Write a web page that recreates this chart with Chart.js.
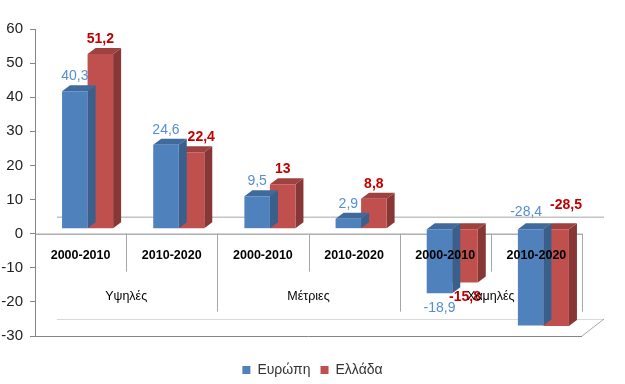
<!DOCTYPE html>
<html>
<head>
<meta charset="utf-8">
<script src="https://cdn.jsdelivr.net/npm/chart.js@4.4.1/dist/chart.umd.min.js"></script>
<style>
  html, body { margin: 0; padding: 0; background: #fff; }
  #wrap { width: 625px; height: 384px; }
</style>
</head>
<body>
<div id="wrap"><canvas id="chart" width="625" height="384"></canvas></div>
<script>
// Δεδομένα
const categories = ['2000-2010', '2010-2020', '2000-2010', '2010-2020', '2000-2010', '2010-2020'];
const groups = ['Υψηλές', 'Μέτριες', 'Χαμηλές'];
const seriesNames = ['Ευρώπη', 'Ελλάδα'];
const europe = [40.3, 24.6, 9.5, 2.9, -18.9, -28.4];
const greece = [51.2, 22.4, 13, 8.8, -15.8, -28.5];
const yMin = -30;
const yMax = 60;
const yStep = 10;

const FONT = '"Liberation Sans", Arial, sans-serif';

// 3D look
const SHIFT = { x: 7, y: -5 };     // bars sit a bit inside the depth
const DEPTH = { x: 8, y: -6 };     // top / side faces
const BACK = { x: 22, y: -17 };    // back wall
const faces = [
    { front: '#4F81BD', top: '#3F6A9B', side: '#395F8C', label: '#558ED5', bold: false },
    { front: '#C0504D', top: '#9E413F', side: '#873735', label: '#C00000', bold: true }
];

function fmt(v) {
    return String(v).replace('.', ',');
}

function line(ctx, x1, y1, x2, y2) {
    ctx.beginPath();
    ctx.moveTo(x1, y1);
    ctx.lineTo(x2, y2);
    ctx.stroke();
}

function poly(ctx, pts, color) {
    ctx.beginPath();
    ctx.moveTo(pts[0][0], pts[0][1]);
    for (let i = 1; i < pts.length; i++) ctx.lineTo(pts[i][0], pts[i][1]);
    ctx.closePath();
    ctx.fillStyle = color;
    ctx.fill();
}

const bars3d = {
    id: 'bars3d',
    beforeDatasetsDraw(chart) {
        const { ctx, chartArea: a, scales: { x, y } } = chart;
        const y0 = y.getPixelForValue(0);
        const half = (x.getPixelForValue(1) - x.getPixelForValue(0)) / 2;

        ctx.save();
        ctx.lineWidth = 1;
        // back wall / floor
        ctx.strokeStyle = '#A6A6A6';
        line(ctx, a.left + BACK.x, y0 + BACK.y + 0.5, a.right + BACK.x, y0 + BACK.y + 0.5);
        ctx.strokeStyle = '#D9D9D9';
        line(ctx, a.left + BACK.x, a.bottom + BACK.y + 0.5, a.right + BACK.x, a.bottom + BACK.y + 0.5);
        ctx.strokeStyle = '#A6A6A6';
        line(ctx, a.right, a.bottom, a.right + BACK.x, a.bottom + BACK.y);
        // front axis box
        ctx.strokeStyle = '#868686';
        line(ctx, a.left, y0 + 0.5, a.right, y0 + 0.5);
        line(ctx, a.left, a.bottom + 0.5, a.right, a.bottom + 0.5);
        // category separators
        ctx.strokeStyle = '#A6A6A6';
        for (let i = 1; i <= categories.length; i++) {
            const px = Math.round(x.getPixelForValue(i - 1) + half) + 0.5;
            const len = (i % 2 === 0) ? 78 : 38;
            line(ctx, px, y0, px, y0 + len);
        }
        ctx.restore();

        ctx.save();
        ctx.translate(SHIFT.x, SHIFT.y);
    },
    beforeDatasetDraw(chart, args) {
        const { ctx } = chart;
        const f = faces[args.index];
        args.meta.data.forEach(bar => {
            const l = bar.x - bar.width / 2;
            const r = bar.x + bar.width / 2;
            const t = Math.min(bar.y, bar.base);
            const b = Math.max(bar.y, bar.base);
            poly(ctx, [[r, t], [r + DEPTH.x, t + DEPTH.y], [r + DEPTH.x, b + DEPTH.y], [r, b]], f.side);
            poly(ctx, [[l, t], [l + DEPTH.x, t + DEPTH.y], [r + DEPTH.x, t + DEPTH.y], [r, t]], f.top);
        });
    },
    afterDatasetsDraw(chart) {
        const { ctx, chartArea: a, scales: { x, y } } = chart;
        ctx.restore();

        const y0 = y.getPixelForValue(0);
        ctx.save();
        ctx.textAlign = 'center';
        ctx.textBaseline = 'middle';

        // data labels: work out positions first, then push apart the ones above the bars that collide
        const labels = chart.data.datasets.map((ds, di) => {
            const f = faces[di];
            ctx.font = (f.bold ? 'bold ' : '') + '14px ' + FONT;
            return chart.getDatasetMeta(di).data.map((bar, i) => {
                const v = ds.data[i];
                let cy;
                let above = true;
                if (v >= 0) {
                    cy = bar.y + SHIFT.y - 15;
                } else {
                    cy = bar.y + SHIFT.y + 15;
                    above = false;
                    if (cy + 7 > a.bottom) {
                        cy = bar.base + SHIFT.y - 20 + (di ? -4 : 3);
                        above = true;
                    }
                }
                return { text: fmt(v), x: bar.x + SHIFT.x, y: cy, w: ctx.measureText(fmt(v)).width, above: above };
            });
        });
        labels[0].forEach((b, i) => {
            const r = labels[1][i];
            if (b.above && r.above && Math.abs(b.y - r.y) < 15) {
                const need = (b.w + r.w) / 2 + 8 - (r.x - b.x);
                if (need > 0) {
                    r.x += need;
                    const over = r.x + r.w / 2 - a.right;
                    if (over > 0) { r.x -= over; b.x -= over; }
                }
            }
        });
        labels.forEach((set, di) => {
            const f = faces[di];
            ctx.fillStyle = f.label;
            ctx.font = (f.bold ? 'bold ' : '') + '14px ' + FONT;
            set.forEach(l => ctx.fillText(l.text, l.x, l.y));
        });

        // category and group labels
        ctx.fillStyle = '#000';
        ctx.font = 'bold 12.5px ' + FONT;
        categories.forEach((c, i) => {
            ctx.fillText(c, x.getPixelForValue(i), y0 + 22);
        });
        ctx.font = '12.5px ' + FONT;
        groups.forEach((g, gi) => {
            const cx = (x.getPixelForValue(gi * 2) + x.getPixelForValue(gi * 2 + 1)) / 2;
            ctx.fillText(g, cx, y0 + 63);
        });
        ctx.restore();
    }
};

const ctx = document.getElementById('chart').getContext('2d');
new Chart(ctx, {
    type: 'bar',
    data: {
        labels: categories,
        datasets: [
            { label: seriesNames[0], data: europe, backgroundColor: faces[0].front },
            { label: seriesNames[1], data: greece, backgroundColor: faces[1].front }
        ]
    },
    options: {
        responsive: false,
        animation: false,
        categoryPercentage: 0.56,
        barPercentage: 1.0,
        layout: { padding: { top: 29, right: 0, bottom: -3, left: 0 } },
        plugins: {
            legend: {
                position: 'bottom',
                labels: {
                    boxWidth: 8,
                    boxHeight: 8,
                    padding: 10,
                    color: '#333',
                    font: { family: FONT, size: 14 }
                }
            },
            tooltip: { enabled: false }
        },
        scales: {
            x: {
                grid: { display: false },
                border: { display: false },
                ticks: { display: false },
                afterFit: s => { s.height = 17; }
            },
            y: {
                min: yMin,
                max: yMax,
                ticks: {
                    stepSize: yStep,
                    padding: 7,
                    color: '#222',
                    font: { family: FONT, size: 15 }
                },
                grid: { drawOnChartArea: false, tickLength: 5, color: '#868686' },
                border: { color: '#868686' },
                afterFit: s => { s.width = 35; }
            },
            yRight: {
                position: 'right',
                display: true,
                grid: { display: false },
                border: { display: false },
                ticks: { display: false },
                afterFit: s => { s.width = 43; }
            }
        }
    },
    plugins: [bars3d]
});
</script>
</body>
</html>
